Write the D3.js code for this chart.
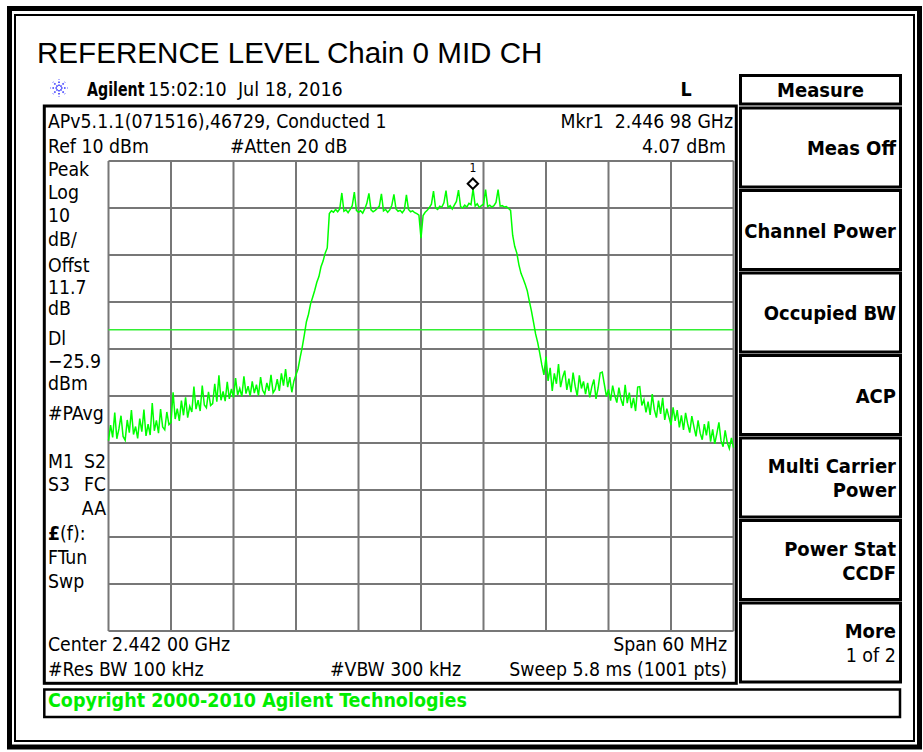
<!DOCTYPE html>
<html>
<head>
<meta charset="utf-8">
<script src="https://cdn.jsdelivr.net/npm/d3@7"></script>
<style>
  body { margin: 0; background: #fff; }
  svg { display: block; }
</style>
</head>
<body>
<svg id="screen" width="923" height="752"></svg>
<script>
// ---- Sweep settings ----
const centerMHz = 2442;
const spanMHz = 60;
const startMHz = centerMHz - spanMHz / 2;   // 2412 MHz
const stepMHz = 0.2;                        // trace sample spacing
const refLevelDbm = 10;
const dbPerDiv = 10;
const divisions = 10;
const displayLineDbm = -25.9;
const markerFreqMHz = 2446.98;
const markerDbm = 4.07;

// ---- Measured trace (dBm), one value per stepMHz from startMHz ----
const traceDbm = [
  -49.5, -46.2, -48.8, -43.5, -49.1, -47.0, -44.2, -48.6, -49.4, -45.1,
  -47.8, -43.0, -48.2, -46.5, -49.0, -44.8, -47.6, -42.9, -48.5, -46.0,
  -48.3, -41.5, -47.4, -45.2, -47.9, -42.8, -46.6, -47.2, -43.4, -46.1,
  -45.6, -39.2, -44.9, -42.7, -45.3, -41.0, -44.1, -40.3, -44.6, -42.2,
  -43.4, -38.0, -42.8, -40.9, -43.2, -37.8, -41.9, -42.5, -39.1, -42.0,
  -41.6, -37.4, -41.2, -35.6, -40.9, -39.0, -41.1, -37.0, -40.6, -38.5,
  -40.3, -36.2, -39.8, -38.4, -40.1, -35.8, -39.5, -37.9, -40.0, -36.9,
  -39.4, -37.6, -39.9, -36.0, -38.8, -39.6, -37.2, -38.9, -35.5, -39.3,
  -38.6, -36.4, -38.9, -35.2, -37.8, -34.3, -38.1, -36.0, -39.2, -36.8,
  -35.5, -34.2, -31.8, -29.6, -27.0, -24.2, -22.6, -20.4, -19.0, -17.5,
  -15.8, -14.6, -12.5, -11.3, -9.6, -8.5, -1.2, -0.6, -0.9, -0.3,
  -0.8, -0.2, 3.2, -0.7, -0.4, -1.0, -0.3, 0.5, 3.4, -0.5,
  -0.9, -0.6, -1.1, -0.2, 1.0, 3.1, -0.4, -0.8, -0.5, -0.1,
  0.4, 3.0, -0.6, -0.3, -0.9, -0.4, 0.6, 2.9, -0.2, -0.7,
  -0.5, -1.0, -0.4, 2.8, -0.3, -0.8, -0.6, -1.0, -1.2, -1.5,
  -6.4, -1.6, -0.9, -0.5, 0.1, 0.8, 3.6, 0.0, -0.3, 0.4,
  0.2, 1.1, 3.7, 0.1, 0.5, -0.2, 0.6, 1.4, 3.8, 0.3,
  0.0, 0.6, 0.2, 1.0, 0.7, 4.07, 0.4, 0.9, 0.1, 0.5,
  0.8, 3.9, 0.3, 0.6, 0.2, 0.5, 1.2, 3.9, 0.4, 0.5,
  0.2, 0.3, -0.1, -0.5, -5.8, -8.2, -9.6, -12.1, -13.9, -15.0,
  -16.2, -17.6, -19.8, -21.9, -24.3, -26.8, -28.6, -30.9, -33.4, -35.5,
  -31.6, -36.8, -34.0, -38.9, -35.2, -37.4, -33.2, -38.1, -36.0, -34.6,
  -38.7, -36.3, -39.2, -35.0, -37.9, -40.0, -35.6, -38.4, -36.9, -39.6,
  -37.2, -40.3, -38.0, -36.5, -40.6, -38.3, -35.1, -34.9, -37.5, -40.1,
  -38.6, -41.0, -37.8, -39.9, -41.4, -38.2, -40.7, -42.1, -37.6, -41.5,
  -39.3, -42.6, -40.4, -43.2, -38.1, -38.0, -42.0, -40.8, -43.5, -41.2,
  -44.0, -39.6, -42.9, -44.6, -41.0, -43.8, -40.4, -45.1, -42.7, -44.5,
  -46.2, -42.4, -45.3, -43.0, -46.7, -44.1, -47.2, -43.6, -45.9, -47.8,
  -44.3, -46.5, -48.6, -45.2, -47.9, -49.3, -46.0, -48.4, -45.4, -49.7,
  -47.1, -50.2, -48.0, -45.6, -49.5, -50.8, -47.3, -49.9, -51.2, -48.9,
  -51.0
];

// ---- Annotation text ----
const titleText = "REFERENCE LEVEL Chain 0 MID CH";
const clockText = "15:02:10  Jul 18, 2016";
const headerLeft = ["APv5.1.1(071516),46729, Conducted 1", "Ref 10 dBm"];
const attenText = "#Atten 20 dB";
const markerLines = ["Mkr1  2.446 98 GHz", "4.07 dBm"];
const sideLabels = ["Peak", "Log", "10", "dB/", "Offst", "11.7", "dB", "Dl", "\u221225.9", "dBm", "#PAvg"];
const sideBaselines = [176, 199, 222, 245.5, 271.5, 294, 315, 345, 367.5, 389.5, 419.5];
const statusRows = [["M1", "S2"], ["S3", "FC"], ["", "AA"]];
const statusBaselines = [467.5, 490.5, 515];
const tuneLabels = ["(f):", "FTun", "Swp"];
const tuneBaselines = [540, 564, 587.5];
const footerLeft = ["Center 2.442 00 GHz", "#Res BW 100 kHz"];
const footerMid = "#VBW 300 kHz";
const footerRight = ["Span 60 MHz", "Sweep 5.8 ms (1001 pts)"];
const copyrightText = "Copyright 2000-2010 Agilent Technologies";
const menuTitle = "Measure";
const softkeys = [
  ["Meas Off"], ["Channel Power"], ["Occupied BW"], ["ACP"],
  ["Multi Carrier", "Power"], ["Power Stat", "CCDF"], ["More", "1 of 2"]
];

const FONT = "'DejaVu Sans Condensed', 'DejaVu Sans', sans-serif";
const svg = d3.select("#screen");

// ---- Frames ----
svg.append("rect").attr("x", 9.5).attr("y", 8.5).attr("width", 910).attr("height", 738.5)
  .attr("fill", "none").attr("stroke", "#000").attr("stroke-width", 5);
svg.append("rect").attr("x", 15).attr("y", 15).attr("width", 899).attr("height", 726)
  .attr("fill", "none").attr("stroke", "#000").attr("stroke-width", 2);

// ---- Title ----
svg.append("text").attr("x", 37).attr("y", 63)
  .attr("font-family", "'Liberation Sans', Arial, sans-serif").attr("font-size", 29.6)
  .attr("fill", "#000").text(titleText);

// ---- Status line with logo ----
const star = svg.append("g").attr("transform", "translate(59,88)")
  .attr("stroke", "#3a3aff").attr("stroke-width", 1.6).attr("stroke-dasharray", "1.6,1.4");
d3.range(8).forEach(k => {
  const a = k * Math.PI / 4;
  star.append("line").attr("x1", 2 * Math.cos(a)).attr("y1", 2 * Math.sin(a))
    .attr("x2", 8.5 * Math.cos(a)).attr("y2", 8.5 * Math.sin(a));
});
// Brand name: narrow bold, stretched vertically to the line height
svg.append("text").attr("transform", "translate(87,96) scale(1,1.18)")
  .attr("font-family", FONT).attr("font-size", 15.8)
  .attr("font-weight", "bold").attr("fill", "#000").text("Agilent");
svg.append("text").attr("x", 148).attr("y", 96).attr("font-family", FONT).attr("font-size", 19.5)
  .attr("fill", "#000").text(clockText).style("white-space", "pre");
svg.append("text").attr("x", 686).attr("y", 96).attr("text-anchor", "middle").attr("font-family", FONT)
  .attr("font-size", 19.5).attr("font-weight", "bold").attr("fill", "#000").text("L");

// ---- Instrument panel ----
svg.append("rect").attr("x", 44.3).attr("y", 106).attr("width", 692).attr("height", 577.3)
  .attr("fill", "none").attr("stroke", "#000").attr("stroke-width", 3);

function label(x, y, str, opts = {}) {
  return svg.append("text").attr("x", x).attr("y", y)
    .attr("font-family", FONT).attr("font-size", opts.size || 19.3)
    .attr("font-weight", opts.bold ? "bold" : "normal")
    .attr("text-anchor", opts.anchor || "start")
    .attr("fill", opts.fill || "#000")
    .style("white-space", "pre")
    .text(str);
}

label(48, 128, headerLeft[0]);
label(48, 153, headerLeft[1]);
label(230, 153, attenText);
label(733, 128, markerLines[0], { anchor: "end" });
label(726, 153, markerLines[1], { anchor: "end" });

sideLabels.forEach((s, i) => label(48, sideBaselines[i], s));
statusRows.forEach((r, i) => {
  if (r[0]) label(48, statusBaselines[i], r[0]);
  label(106, statusBaselines[i], r[1], { anchor: "end" });
});
// Tune label: bold pound sign followed by "(f):"
const tl = svg.append("text").attr("x", 48).attr("y", tuneBaselines[0])
  .attr("font-family", FONT).attr("font-size", 19.3).attr("fill", "#000");
tl.append("tspan").attr("font-weight", "bold").text("\u00a3");
tl.append("tspan").text(tuneLabels[0]);
label(48, tuneBaselines[1], tuneLabels[1]);
label(48, tuneBaselines[2], tuneLabels[2]);

label(48, 651, footerLeft[0]);
label(48, 676, footerLeft[1]);
label(330, 676, footerMid);
label(727, 651, footerRight[0], { anchor: "end" });
label(727, 676, footerRight[1], { anchor: "end" });

// ---- Graticule ----
const plot = { left: 108.5, right: 733.5, top: 161, bottom: 631 };
const x = d3.scaleLinear().domain([startMHz, startMHz + spanMHz]).range([plot.left, plot.right]);
const y = d3.scaleLinear().domain([refLevelDbm - dbPerDiv * divisions, refLevelDbm])
  .range([plot.bottom, plot.top]);

const freqTicks = d3.range(divisions + 1).map(k => startMHz + k * spanMHz / divisions);
const levelTicks = d3.range(divisions + 1).map(k => refLevelDbm - k * dbPerDiv);

const grid = svg.append("g").attr("stroke", "#777").attr("stroke-width", 2);
grid.selectAll("line.v").data(freqTicks).join("line").attr("class", "v")
  .attr("x1", d => x(d)).attr("x2", d => x(d)).attr("y1", plot.top).attr("y2", plot.bottom);
grid.selectAll("line.h").data(levelTicks).join("line").attr("class", "h")
  .attr("y1", d => y(d)).attr("y2", d => y(d)).attr("x1", plot.left).attr("x2", plot.right);

// ---- Display line ----
svg.append("line").attr("x1", plot.left).attr("x2", plot.right)
  .attr("y1", y(displayLineDbm)).attr("y2", y(displayLineDbm))
  .attr("stroke", "#33ee33").attr("stroke-width", 1.3);

// ---- Trace ----
const line = d3.line()
  .x((d, i) => x(startMHz + i * stepMHz))
  .y(d => y(d));
svg.append("path").datum(traceDbm).attr("d", line)
  .attr("fill", "none").attr("stroke", "#00ff00").attr("stroke-width", 1.5)
  .attr("stroke-linejoin", "miter");

// ---- Marker 1 ----
const mx = x(markerFreqMHz), my = y(markerDbm);
svg.append("rect").attr("x", mx - 4.5).attr("y", plot.top + 1.5).attr("width", 9).attr("height", 11)
  .attr("fill", "#fff");
svg.append("text").attr("x", mx).attr("y", plot.top + 11).attr("text-anchor", "middle")
  .attr("font-family", FONT).attr("font-size", 12).attr("fill", "#000").text("1");
const dh = 5.2;
svg.append("path")
  .attr("d", `M${mx},${my - 2 * dh} L${mx + dh},${my - dh} L${mx},${my} L${mx - dh},${my - dh} Z`)
  .attr("fill", "#fff").attr("stroke", "#000").attr("stroke-width", 2);

// ---- Copyright bar ----
svg.append("rect").attr("x", 44.3).attr("y", 689.5).attr("width", 855.7).attr("height", 27.5)
  .attr("fill", "none").attr("stroke", "#000").attr("stroke-width", 2.5);
label(48, 707, copyrightText, { bold: true, fill: "#00ee00", size: 19.5 });

// ---- Softkey menu ----
svg.append("rect").attr("x", 740.5).attr("y", 75.5).attr("width", 160).attr("height", 28.5)
  .attr("fill", "none").attr("stroke", "#000").attr("stroke-width", 3);
label(820.5, 97, menuTitle, { bold: true, anchor: "middle", size: 20 });

const keyTop = 108, keyPitch = 82.5, keyHeight = 79;
softkeys.forEach((lines, i) => {
  const top = keyTop + i * keyPitch;
  svg.append("rect").attr("x", 740.5).attr("y", top).attr("width", 160).attr("height", keyHeight)
    .attr("fill", "none").attr("stroke", "#000").attr("stroke-width", 3);
  if (lines.length === 1) {
    label(896, top + 47, lines[0], { bold: true, anchor: "end", size: 20 });
  } else {
    const isPage = lines[1] === "1 of 2";
    label(896, top + 35, lines[0], { bold: true, anchor: "end", size: 20 });
    label(896, top + 59, lines[1], { bold: !isPage, anchor: "end", size: isPage ? 19.5 : 20 });
  }
});
</script>
</body>
</html>
